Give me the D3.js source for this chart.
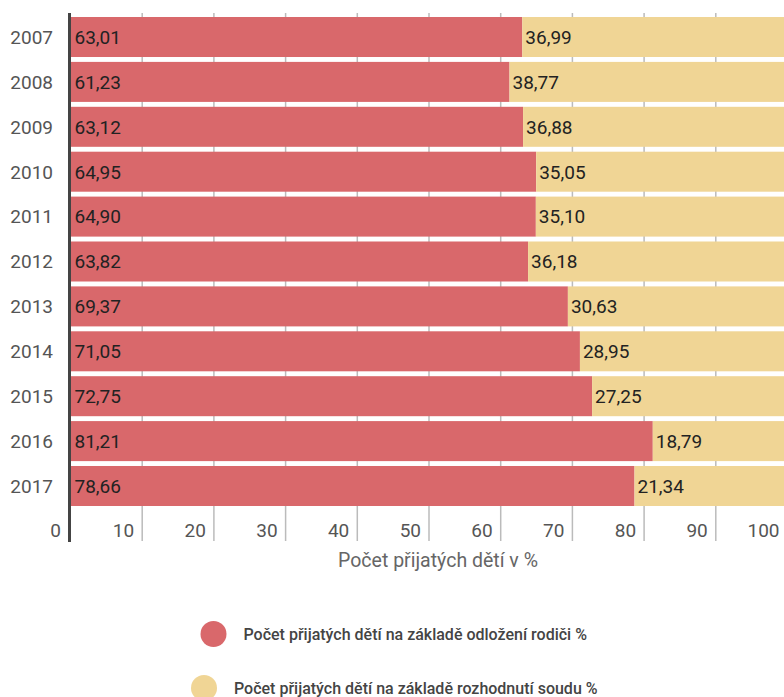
<!DOCTYPE html>
<html><head><meta charset="utf-8">
<script src="https://cdn.jsdelivr.net/npm/d3@7"></script>
<style>body{margin:0;background:#fff;overflow:hidden}</style>
</head><body>
<svg id="c" width="784" height="697"></svg>
<script>
const years = ["2007","2008","2009","2010","2011","2012","2013","2014","2015","2016","2017"];
const parents = [63.01,61.23,63.12,64.95,64.90,63.82,69.37,71.05,72.75,81.21,78.66];
const court = [36.99,38.77,36.88,35.05,35.10,36.18,30.63,28.95,27.25,18.79,21.34];
const xTicks = [0,10,20,30,40,50,60,70,80,90,100];
const seriesNames = ["Počet přijatých dětí na základě odložení rodiči %","Počet přijatých dětí na základě rozhodnutí soudu %"];
const colors = ["#d9686b","#f0d595"];
const fmt = v => v.toFixed(2).replace(".", ",");

const svg = d3.select("#c");
const x = d3.scaleLinear().domain([0,100]).range([70.5,787.5]);
const y = d3.scaleBand().domain(years).range([17,506]).paddingInner(0.109).paddingOuter(0);
const font = "Roboto, sans-serif";

// grid
svg.append("g").selectAll("line").data(xTicks.slice(1)).join("line")
  .attr("x1",d=>x(d)).attr("x2",d=>x(d)).attr("y1",13).attr("y2",541)
  .attr("stroke","#bbb").attr("stroke-width",1.5);

const rows = svg.append("g").selectAll("g").data(years).join("g");
rows.append("rect").attr("x",x(0)).attr("y",d=>y(d)).attr("height",y.bandwidth())
  .attr("width",(d,i)=>x(parents[i])-x(0)).attr("fill",colors[0]);
rows.append("rect").attr("x",(d,i)=>x(parents[i])).attr("y",d=>y(d)).attr("height",y.bandwidth())
  .attr("width",(d,i)=>x(100)-x(parents[i])).attr("fill",colors[1]);
rows.append("text").attr("x",x(0)+4).attr("y",d=>y(d)+y.bandwidth()/2).attr("dy","0.36em")
  .attr("font-family",font).attr("font-size",19).attr("fill","#222").text((d,i)=>fmt(parents[i]));
rows.append("text").attr("x",(d,i)=>x(parents[i])+3).attr("y",d=>y(d)+y.bandwidth()/2).attr("dy","0.36em")
  .attr("font-family",font).attr("font-size",19).attr("fill","#222").text((d,i)=>fmt(court[i]));

// y labels
svg.append("g").selectAll("text").data(years).join("text")
  .attr("x",53).attr("y",d=>y(d)+y.bandwidth()/2).attr("dy","0.36em").attr("text-anchor","end")
  .attr("font-family",font).attr("font-size",19).attr("fill","#555").text(d=>d);

// x labels
svg.append("g").selectAll("text").data(xTicks).join("text")
  .attr("x",d=>d===0?61:x(d)-8).attr("y",530).attr("dy","0.36em").attr("text-anchor","end")
  .attr("font-family",font).attr("font-size",19).attr("fill","#555").text(d=>d);

// axis line
svg.append("line").attr("x1",69.5).attr("x2",69.5).attr("y1",13).attr("y2",542)
  .attr("stroke","#444").attr("stroke-width",3);

svg.append("text").attr("x",438).attr("y",560).attr("dy","0.36em").attr("text-anchor","middle")
  .attr("font-family",font).attr("font-size",19.5).attr("fill","#666").text("Počet přijatých dětí v %");

// legend
const leg = [{cx:213.5,cy:634},{cx:204,cy:688}];
seriesNames.forEach((n,i)=>{
  svg.append("circle").attr("cx",leg[i].cx).attr("cy",leg[i].cy).attr("r",13).attr("fill",colors[i]);
  svg.append("text").attr("x",leg[i].cx+30).attr("y",leg[i].cy).attr("dy","0.36em")
    .attr("font-family",font).attr("font-size",16).attr("font-weight",500).attr("fill","#444").text(n);
});
</script>
</body></html>
